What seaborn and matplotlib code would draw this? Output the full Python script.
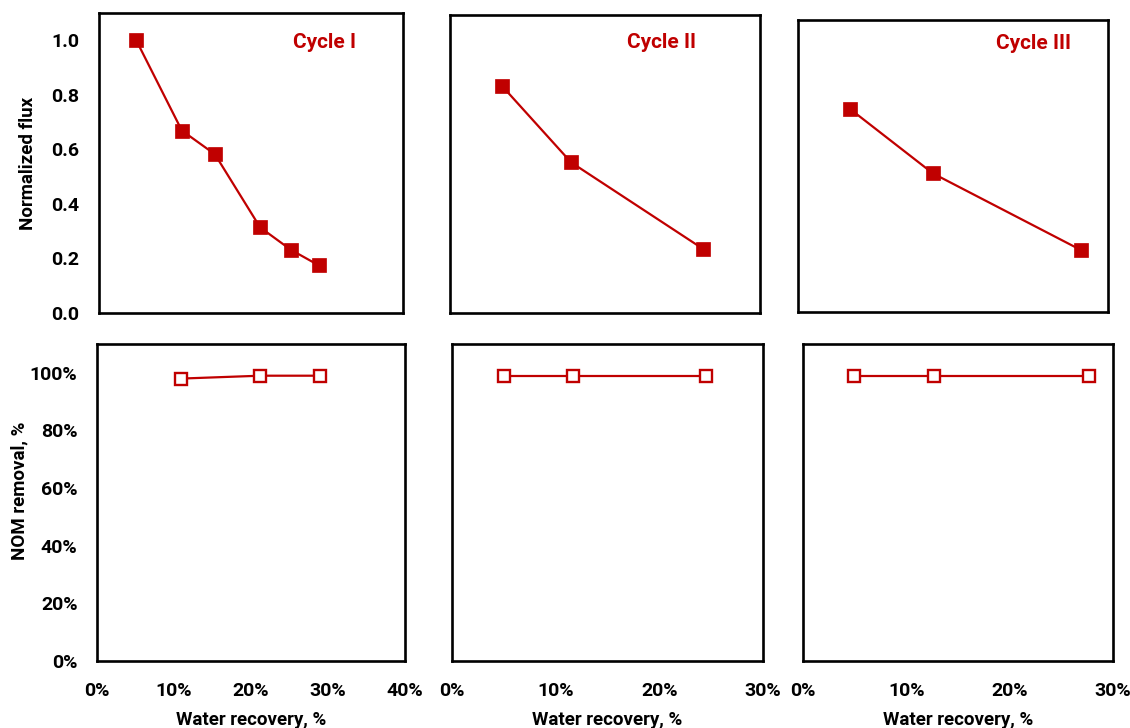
import matplotlib
matplotlib.use("Agg")
import matplotlib.pyplot as plt
import seaborn as sns
import pandas as pd
from matplotlib.ticker import PercentFormatter, MultipleLocator

# Water recovery (fraction) and normalized flux for each filtration cycle
rec_c1 = [0.049, 0.109, 0.1525, 0.212, 0.2523, 0.289]
flux_c1 = [1.0, 0.669, 0.582, 0.314, 0.232, 0.175]
rec_c2 = [0.0506, 0.1172, 0.2451]
flux_c2 = [0.837, 0.556, 0.236]
rec_c3 = [0.0503, 0.1306, 0.2735]
flux_c3 = [0.765, 0.522, 0.234]

# NOM removal (fraction) at the sampled recoveries
nom_rec_c1 = [0.109, 0.212, 0.290]
nom_c1 = [0.98, 0.99, 0.99]
nom_rec_c2 = [0.0506, 0.1172, 0.2451]
nom_c2 = [0.99, 0.99, 0.99]
nom_rec_c3 = [0.049, 0.127, 0.277]
nom_c3 = [0.99, 0.99, 0.99]

cycle_names = ["Cycle I", "Cycle II", "Cycle III"]
x_max = [0.4, 0.3, 0.3]

sns.set_style("white")
plt.rcParams["font.family"] = ["Roboto", "DejaVu Sans"]
plt.rcParams["font.weight"] = "bold"
plt.rcParams["text.color"] = "black"
plt.rcParams["axes.labelcolor"] = "black"
plt.rcParams["xtick.color"] = "black"
plt.rcParams["ytick.color"] = "black"

RED = "#C00000"
W, H = 1130, 728
fig = plt.figure(figsize=(W / 100, H / 100), dpi=100)


def box(x0, y0, x1, y1):
    # pixel box (left, top, right, bottom) -> figure fraction rect
    return [x0 / W, 1 - y1 / H, (x1 - x0) / W, (y1 - y0) / H]


top_boxes = [box(99, 13, 403, 313), box(450, 15, 760, 313), box(798, 20, 1108, 312)]
bot_boxes = [box(97, 344, 405, 661), box(452, 344, 763, 661), box(803, 344, 1113, 661)]

flux_sets = [(rec_c1, flux_c1), (rec_c2, flux_c2), (rec_c3, flux_c3)]
nom_sets = [(nom_rec_c1, nom_c1), (nom_rec_c2, nom_c2), (nom_rec_c3, nom_c3)]
cycle_xy = [(0.297, 0.99), (0.205, 1.0), (0.228, 1.01)]


def style_axis(ax, xmax, show_xlabels, show_ylabels):
    ax.set_xlim(0, xmax)
    ax.xaxis.set_major_locator(MultipleLocator(0.1))
    ax.xaxis.set_major_formatter(PercentFormatter(1.0, decimals=0))
    for s in ax.spines.values():
        s.set_visible(True)
        s.set_color("black")
        s.set_linewidth(1.9)
    ax.tick_params(axis="both", direction="in", length=5, width=1.6,
                   color="black", labelcolor="black", labelsize=14, pad=16)
    ax.tick_params(axis="x", labelbottom=show_xlabels, pad=15)
    ax.tick_params(axis="y", labelleft=show_ylabels, pad=14)
    for lab in ax.get_xticklabels() + ax.get_yticklabels():
        lab.set_fontweight("bold")
    ax.set_xlabel("")
    ax.set_ylabel("")


for i in range(3):
    # Normalized flux panel
    ax = fig.add_axes(top_boxes[i])
    xs, ys = flux_sets[i]
    df = pd.DataFrame({"rec": xs, "flux": ys})
    sns.lineplot(data=df, x="rec", y="flux", ax=ax, color=RED, linewidth=1.6,
                 marker="s", markersize=10, markerfacecolor=RED,
                 markeredgecolor=RED, markeredgewidth=0.5)
    ax.set_ylim(0, 1.1)
    ax.yaxis.set_major_locator(MultipleLocator(0.2))
    ax.yaxis.set_major_formatter(plt.FormatStrFormatter("%.1f"))
    style_axis(ax, x_max[i], False, i == 0)
    ax.text(cycle_xy[i][0], cycle_xy[i][1], cycle_names[i], color=RED,
            fontsize=15, fontweight="bold", ha="center", va="center")
    if i == 0:
        ax.set_ylabel("Normalized flux", fontsize=13.5, fontweight="bold", color="black")
        ax.yaxis.set_label_coords(-0.204, 0.5)

    # NOM removal panel
    ax2 = fig.add_axes(bot_boxes[i])
    xs, ys = nom_sets[i]
    df2 = pd.DataFrame({"rec": xs, "nom": ys})
    sns.lineplot(data=df2, x="rec", y="nom", ax=ax2, color=RED, linewidth=1.6,
                 marker="s", markersize=8.5, markerfacecolor="white",
                 markeredgecolor=RED, markeredgewidth=1.7)
    ax2.set_ylim(0, 1.1)
    ax2.yaxis.set_major_locator(MultipleLocator(0.2))
    ax2.yaxis.set_major_formatter(PercentFormatter(1.0, decimals=0))
    style_axis(ax2, x_max[i], True, i == 0)
    ax2.set_xlabel("Water recovery, %", fontsize=13.5, fontweight="bold",
                   color="black", labelpad=8)
    if i == 0:
        ax2.set_ylabel("NOM removal, %", fontsize=13.5, fontweight="bold", color="black")
        ax2.yaxis.set_label_coords(-0.224, 0.536)

fig.savefig("out.png", dpi=100, facecolor="white")
